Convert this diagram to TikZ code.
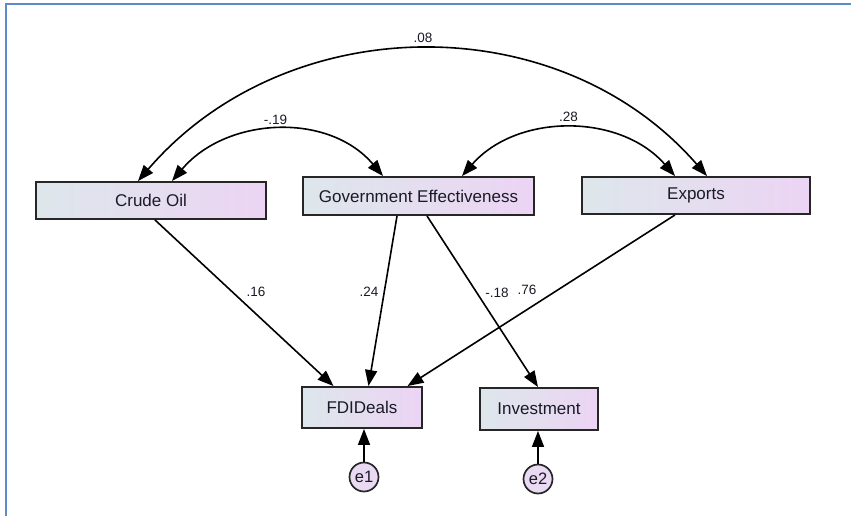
\documentclass[tikz,border=0pt]{standalone}
\usepackage{fontspec}
\setmainfont{Liberation Sans}
\usetikzlibrary{arrows.meta}
\definecolor{frameblue}{HTML}{5B8BC9}
\definecolor{boxline}{HTML}{262626}
\definecolor{boxleft}{HTML}{DDE7EB}
\definecolor{boxright}{HTML}{ECD4F4}
\definecolor{errfill}{HTML}{EAD9F2}
\definecolor{txt}{HTML}{1A1A26}
\begin{document}
\begin{tikzpicture}[x=1pt,y=-1pt,
  var/.style={draw=boxline, line width=1.9pt, left color=boxleft, right color=boxright,
    inner sep=0pt, font=\fontsize{17}{20}\selectfont, text=txt},
  err/.style={circle, draw=boxline, line width=1.7pt, fill=errfill, minimum size=29pt,
    inner sep=0pt, font=\fontsize{16.5}{18}\selectfont, text=txt},
  patharrow/.style={-{Triangle[length=16pt,width=12pt]}, line width=1.6pt},
  covarrow/.style={{Triangle[length=16pt,width=12pt]}-{Triangle[length=16pt,width=12pt]}, line width=1.6pt},
  lbl/.style={font=\fontsize{13.5}{15}\selectfont, text=txt, inner sep=1pt}]
\useasboundingbox (0,0) rectangle (851,516);
\draw[frameblue, line width=2pt] (851,4.5) -- (5.5,4.5) -- (5.5,516);

\node[var, minimum width=230pt, minimum height=37pt] (co) at (151,200.5) {Crude Oil};
\node[var, minimum width=231pt, minimum height=38pt] (ge) at (418.5,196) {Government Effectiveness};
\node[var, minimum width=228pt, minimum height=37pt] (ex) at (696,195.5) {Exports};
\node[var, minimum width=120pt, minimum height=41pt] (fdi) at (362,407.5) {FDIDeals};
\node[var, minimum width=118pt, minimum height=42pt] (inv) at (539,409) {Investment};
\node[err] (e1) at (364,477) {e1};
\node[err] (e2) at (538,479) {e2};

% covariances
\draw[covarrow] ([xshift=21pt]co.north) .. controls +(54.5,-64.3) and +(-54.5,-64.3) .. ([xshift=-35.5pt]ge.north);
\draw[covarrow] ([xshift=43.5pt]ge.north) .. controls +(55,-63) and +(-55,-63) .. ([xshift=-21pt]ex.north);
\draw[covarrow] ([xshift=-13pt]co.north) .. controls +(148,-172) and +(-149,-171) .. ([xshift=11pt]ex.north);

% regressions
\draw[patharrow] ([xshift=4pt]co.south) -- ([xshift=-28.5pt]fdi.north);
\draw[patharrow] ([xshift=-21.5pt]ge.south) -- ([xshift=6.5pt]fdi.north);
\draw[patharrow] ([xshift=8.5pt]ge.south) -- ([xshift=-1pt]inv.north);
\draw[patharrow] ([xshift=-21pt]ex.south) -- ([xshift=45.5pt]fdi.north);
\draw[patharrow] (e1.north) -- (e1.north |- fdi.south);
\draw[patharrow] (e2.north) -- (e2.north |- inv.south);

% labels
\node[lbl] (l08) at (423,38) {.08};
\node[lbl] (l19) at (275.5,120) {-.19};
\node[lbl] (l28) at (568.5,117) {.28};
\node[lbl] (l16) at (256,292) {.16};
\node[lbl] (l24) at (369,292) {.24};
\node[lbl] (l18) at (497,293) {-.18};
\node[lbl] (l76) at (527,290) {.76};
\end{tikzpicture}
\end{document}
